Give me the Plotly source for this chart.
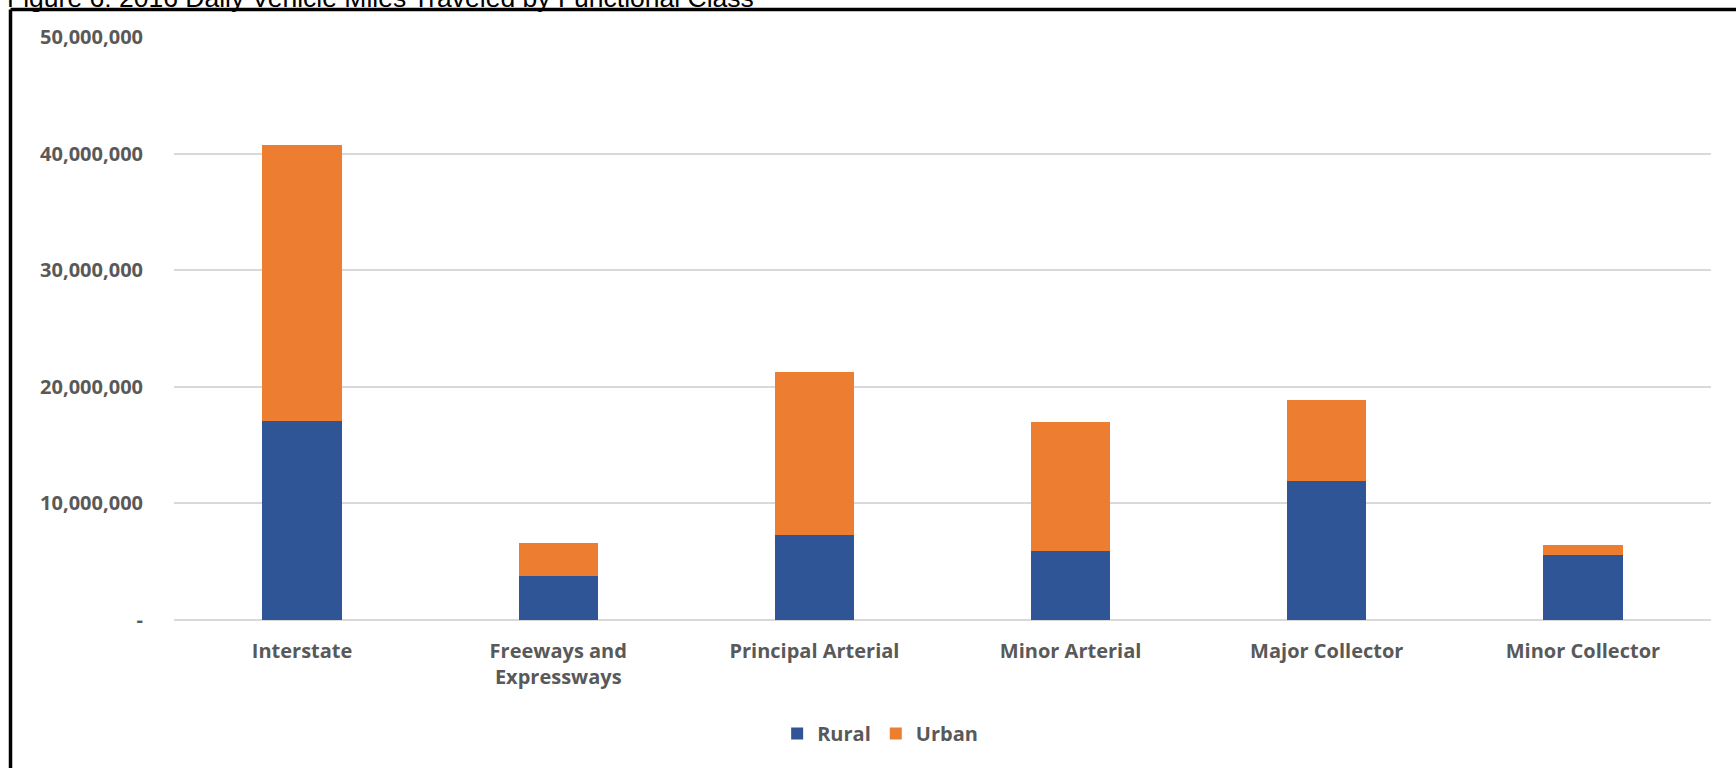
import plotly.graph_objects as go

categories = ["Interstate", "Freeways and<br>Expressways", "Principal Arterial",
              "Minor Arterial", "Major Collector", "Minor Collector"]
rural = [17060000, 3800000, 7290000, 5910000, 11940000, 5590000]
urban = [23710000, 2800000, 13990000, 11030000, 6940000, 800000]
tick_vals = [0, 10000000, 20000000, 30000000, 40000000, 50000000]
tick_text = ["-", "10,000,000", "20,000,000", "30,000,000", "40,000,000", "50,000,000"]
title_text = "Figure 6: 2016 Daily Vehicle Miles Traveled by Functional Class"

W, H = 1736, 768
L, R, T, B = 174, 25, 37, 148
pw, ph = W - L - R, H - T - B

def xp(px):
    return (px - L) / pw

def yp(py):
    return (H - B - py) / ph

label_font = dict(family="Open Sans", size=20, color="#595959", weight="bold")

fig = go.Figure()
fig.add_trace(go.Bar(x=categories, y=rural, name="Rural",
                     marker=dict(color="#2F5597", line=dict(width=0))))
fig.add_trace(go.Bar(x=categories, y=urban, name="Urban",
                     marker=dict(color="#ED7D31", line=dict(width=0))))

fig.update_layout(
    width=W, height=H,
    barmode="stack", bargap=0.69,
    margin=dict(l=L, r=R, t=T, b=B, autoexpand=False),
    paper_bgcolor="white", plot_bgcolor="white",
    showlegend=True,
    legend=dict(orientation="h", xref="container", x=0.507, xanchor="center",
                yref="container", y=0.045, yanchor="middle",
                font=label_font, itemwidth=30, traceorder="normal"),
    xaxis=dict(showgrid=False, showline=False, ticks="", tickfont=label_font,
               ticklabelstandoff=17),
    yaxis=dict(range=[0, 50000000], tickvals=tick_vals, ticktext=tick_text,
               showgrid=True, gridcolor="#D9D9D9", gridwidth=1.5,
               zeroline=True, zerolinecolor="#D9D9D9", zerolinewidth=1.5,
               showline=False, ticks="", tickfont=label_font,
               ticklabelstandoff=30),
)

# frame lines (left and top)
fig.add_shape(type="line", xref="paper", yref="paper",
              x0=xp(10.5), x1=xp(W + 5), y0=yp(9.5), y1=yp(9.5),
              line=dict(color="black", width=3.5))
fig.add_shape(type="line", xref="paper", yref="paper",
              x0=xp(10.5), x1=xp(10.5), y0=yp(9.5), y1=yp(H + 5),
              line=dict(color="black", width=3.5))

# cropped title (the reference shows only its lower part)
fig.add_annotation(text=title_text, xref="paper", yref="paper",
                   x=xp(6), y=yp(14.5), xanchor="left", yanchor="bottom",
                   showarrow=False, borderpad=0,
                   font=dict(family="Liberation Sans", size=26.5, color="black"))

fig.write_html("out.html")
